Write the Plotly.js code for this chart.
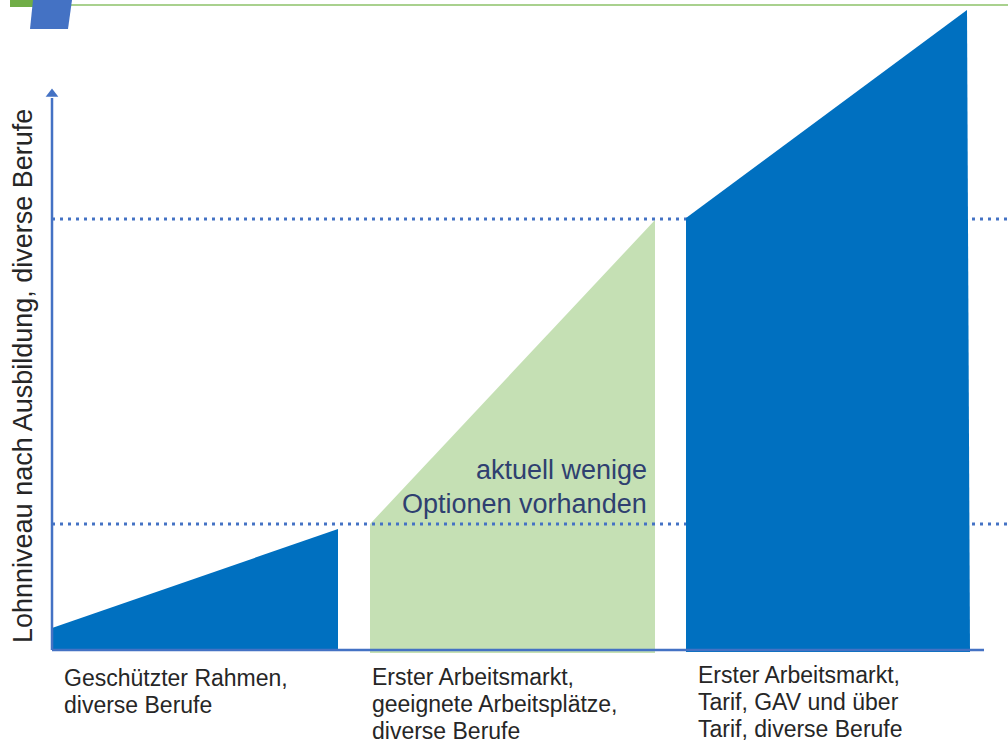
<!DOCTYPE html>
<html>
<head>
<meta charset="utf-8">
<script src="https://cdn.plot.ly/plotly-3.0.1.min.js"></script>
<style>html,body{margin:0;padding:0;background:#fff;}#chart{width:1008px;height:746px;}</style>
</head>
<body>
<div id="chart"></div>
<script>
// ---- data (x: position along the career path, y: wage level) ----
const seg1X = [0, 0, 286, 286];
const seg1Y = [0, 22, 121, 0];
const seg2X = [318, 318, 603, 603];
const seg2Y = [-3, 126, 430, -3];
const seg3X = [634, 634, 915, 918];
const seg3Y = [-2, 432, 640, -2];
const levelLines = [126, 431];
const levelX = [0, 956];
const axisEndX = 932;
const axisTopY = 556;

const categoryX = [10, 318, 644];
const categoryLines = [
  ["Geschützter Rahmen,", "diverse Berufe"],
  ["Erster Arbeitsmarkt,", "geeignete Arbeitsplätze,", "diverse Berufe"],
  ["Erster Arbeitsmarkt,", "Tarif, GAV und über", "Tarif, diverse Berufe"]
];
const categoryFirstY = [-28, -27, -25];
const lineStep = 27;
const noteLines = ["aktuell wenige", "Optionen vorhanden"];
const noteX = 597;
const noteY = [180, 146];
const yTitle = "Lohnniveau nach Ausbildung, diverse Berufe";

const BLUE = "#0070C0", GREEN = "#C5E0B4", AXIS = "#4472C4";
const FONT = "Arial, 'Liberation Sans', sans-serif";

const traces = [];
traces.push({x: seg2X, y: seg2Y, type: "scatter", mode: "lines", fill: "toself",
  fillcolor: GREEN, line: {width: 0, color: GREEN}, hoverinfo: "skip"});
levelLines.forEach(v => traces.push({x: levelX, y: [v, v], type: "scatter", mode: "lines",
  line: {color: AXIS, width: 3, dash: "3px,5px"}, hoverinfo: "skip"}));
traces.push({x: seg1X, y: seg1Y, type: "scatter", mode: "lines", fill: "toself",
  fillcolor: BLUE, line: {width: 0, color: BLUE}, hoverinfo: "skip"});
traces.push({x: seg3X, y: seg3Y, type: "scatter", mode: "lines", fill: "toself",
  fillcolor: BLUE, line: {width: 0, color: BLUE}, hoverinfo: "skip"});
// axes
traces.push({x: [0, axisEndX], y: [0, 0], type: "scatter", mode: "lines",
  line: {color: AXIS, width: 2.5}, hoverinfo: "skip"});
traces.push({x: [0, 0], y: [0, axisTopY - 4], type: "scatter", mode: "lines",
  line: {color: AXIS, width: 2.5}, hoverinfo: "skip"});
traces.push({x: [0], y: [axisTopY], type: "scatter", mode: "markers",
  marker: {symbol: "triangle-up", size: 11, color: AXIS}, hoverinfo: "skip"});

const annotations = [];
categoryLines.forEach((lines, i) => {
  lines.forEach((t, j) => annotations.push({
    x: categoryX[i], y: categoryFirstY[i] - j * lineStep, xref: "x", yref: "y",
    text: t, showarrow: false, xanchor: "left", yanchor: "middle",
    font: {family: FONT, size: 23, color: "#262626"}
  }));
});
noteLines.forEach((t, j) => annotations.push({
  x: noteX, y: noteY[j], xref: "x", yref: "y", text: t, showarrow: false,
  xanchor: "right", yanchor: "middle", font: {family: FONT, size: 27, color: "#2F4070"}
}));
annotations.push({x: -29, y: 274, xref: "x", yref: "y", text: yTitle, textangle: -90,
  showarrow: false, xanchor: "center", yanchor: "middle",
  font: {family: FONT, size: 27, color: "#262626"}});

const layout = {
  width: 1008, height: 746, margin: {l: 0, r: 0, t: 0, b: 0},
  paper_bgcolor: "#fff", plot_bgcolor: "#fff", showlegend: false,
  xaxis: {range: [-52, 956], visible: false, fixedrange: true},
  yaxis: {range: [-96, 650], visible: false, fixedrange: true},
  annotations: annotations,
  shapes: [
    {type: "line", xref: "paper", yref: "paper", x0: 10/1008, x1: 1, y0: 1 - 5/746, y1: 1 - 5/746,
     line: {color: "#A9D18E", width: 2}},
    {type: "rect", xref: "paper", yref: "paper", x0: 10/1008, x1: 34/1008, y0: 1 - 7/746, y1: 1,
     fillcolor: "#70AD47", line: {width: 0}},
    {type: "path", xref: "paper", yref: "paper",
     path: `M ${33/1008} 1 L ${72/1008} 1 L ${68/1008} ${1 - 29/746} L ${30/1008} ${1 - 29/746} Z`,
     fillcolor: "#4472C4", line: {width: 0}}
  ]
};
Plotly.newPlot("chart", traces, layout, {staticPlot: true, displayModeBar: false});
</script>
</body>
</html>
